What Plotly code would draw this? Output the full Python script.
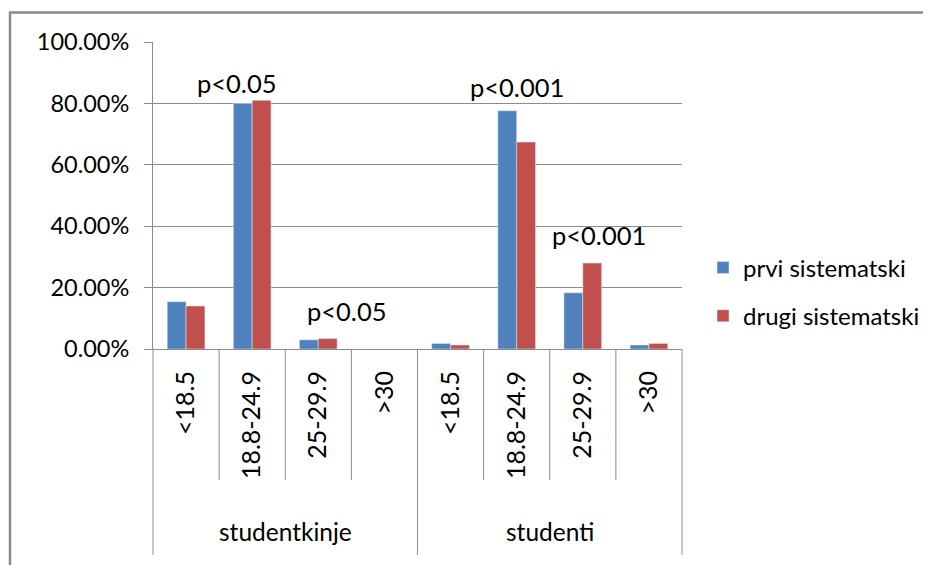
import plotly.graph_objects as go

# ---- data ----
groups = ["studentkinje", "studenti"]
categories = ["<18.5", "18.8-24.9", "25-29.9", ">30"]
series_names = ["prvi sistematski", "drugi sistematski"]
prvi = [0.154, 0.800, 0.030, 0.0, 0.018, 0.776, 0.183, 0.013]
drugi = [0.140, 0.810, 0.034, 0.0, 0.013, 0.674, 0.280, 0.018]
p_labels = ["p<0.05", "p<0.001", "p<0.05", "p<0.001"]
y_ticks = [0, 0.2, 0.4, 0.6, 0.8, 1.0]

OFF = 8  # page body margin
W, H = 931 - OFF, 565 - OFF
L, R, T, B = 153 - OFF, 682 - OFF, 42 - OFF, 349 - OFF  # plot area in px

def px_x(px):
    return (px - OFF - L) / (R - L)

def px_y(py):
    return (B - (py - OFF)) / (B - T)

FONT = "Lato, 'Liberation Sans', sans-serif"
BLUE = "#4F81BD"
RED = "#C0504D"
GRID = "#8C8C8C"

ticktext = categories * len(groups)
xpos = list(range(len(ticktext)))
n = len(ticktext)

fig = go.Figure()
fig.add_trace(go.Bar(x=xpos, y=prvi, name=series_names[0], marker_color=BLUE,
                     legendgroup="a"))
fig.add_trace(go.Bar(x=xpos, y=drugi, name=series_names[1], marker_color=RED,
                     legendgroup="b"))

shapes = []
# category separators
for k in range(n + 1):
    long = (k % len(categories) == 0)
    shapes.append(dict(type="line", xref="paper", yref="paper",
                       x0=k / n, x1=k / n, y0=0,
                       y1=px_y(555) if long else px_y(480),
                       line=dict(color=GRID, width=1)))
# outer border (top and left)
shapes.append(dict(type="line", xref="paper", yref="paper",
                   x0=px_x(9), x1=px_x(945), y0=px_y(12.5), y1=px_y(12.5),
                   line=dict(color="#8a8a8a", width=2.5)))
shapes.append(dict(type="line", xref="paper", yref="paper",
                   x0=px_x(10), x1=px_x(10), y0=px_y(12), y1=px_y(580),
                   line=dict(color="#8a8a8a", width=2.5)))

annotations = []
for g, name in enumerate(groups):
    annotations.append(dict(text=name, xref="paper", yref="paper",
                            x=(g * len(categories) + len(categories) / 2) / n,
                            y=px_y(531), xanchor="center", yanchor="middle",
                            showarrow=False, font=dict(size=24.5, color="#000")))

p_pos = [(0.76, 0.865), (5.0, 0.852), (2.42, 0.125), (6.25, 0.372)]
for txt, (xx, yy) in zip(p_labels, p_pos):
    annotations.append(dict(text=txt, x=xx, y=yy, xref="x", yref="y",
                            xanchor="center", yanchor="middle", showarrow=False,
                            font=dict(size=25.5, color="#000")))

fig.update_layout(
    width=W, height=H,
    margin=dict(l=L, r=W - R, t=T, b=H - B, pad=0, autoexpand=False),
    paper_bgcolor="white", plot_bgcolor="white",
    font=dict(family=FONT, color="#000"),
    barmode="group", bargap=0.43, bargroupgap=0,
    showlegend=True,
    legend=dict(xref="container", yref="container",
                x=(703 - OFF) / W, y=1 - (292 - OFF) / H,
                xanchor="left", yanchor="middle",
                font=dict(size=24, color="#000"), tracegroupgap=14,
                bgcolor="rgba(0,0,0,0)"),
    shapes=shapes,
    annotations=annotations,
)
fig.update_xaxes(range=[-0.5, n - 0.5], tickvals=xpos, ticktext=ticktext,
                 tickangle=-90, ticks="", ticklabelstandoff=11,
                 tickfont=dict(size=25, color="#000"),
                 showline=True, linecolor=GRID, linewidth=1,
                 showgrid=False, zeroline=False, fixedrange=True,
                 automargin=False)
fig.update_yaxes(range=[0, 1.0], tickvals=y_ticks, tickformat=".2%",
                 ticks="outside", ticklen=8, tickcolor=GRID,
                 ticklabelstandoff=10,
                 tickfont=dict(size=23.5, color="#000"),
                 showline=True, linecolor=GRID, linewidth=1,
                 showgrid=True, gridcolor=GRID, gridwidth=1,
                 zeroline=False, automargin=False)

fig.write_html("out.html")
